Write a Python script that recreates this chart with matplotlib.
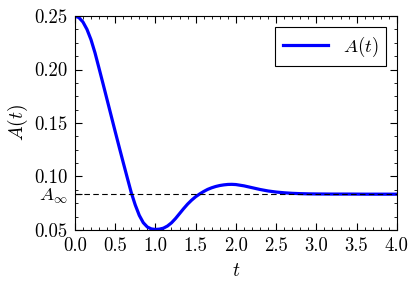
import numpy as np
import matplotlib
matplotlib.use("Agg")
import matplotlib.pyplot as plt
from matplotlib.ticker import MultipleLocator

plt.rcParams['font.family'] = 'serif'
plt.rcParams['font.serif'] = ['cmr10']
plt.rcParams['mathtext.fontset'] = 'cm'
plt.rcParams['axes.unicode_minus'] = False

# values
t = [0.00, 0.05, 0.10, 0.15, 0.20, 0.25, 0.30, 0.35, 0.40, 0.45,
     0.50, 0.55, 0.60, 0.65, 0.70, 0.75, 0.80, 0.85, 0.90, 0.95,
     1.00, 1.05, 1.10, 1.15, 1.20, 1.25, 1.30, 1.35, 1.40, 1.45,
     1.50, 1.55, 1.60, 1.65, 1.70, 1.75, 1.80, 1.85, 1.90, 1.95,
     2.00, 2.10, 2.20, 2.30, 2.40, 2.50, 2.60, 2.70, 2.80, 2.90,
     3.00, 3.20, 3.40, 3.60, 3.80, 4.00]
A = [0.2500, 0.2486, 0.2445, 0.2376, 0.2280, 0.2156, 0.2012, 0.1866, 0.1718, 0.1570,
     0.1422, 0.1276, 0.1132, 0.0990, 0.0850, 0.0733, 0.0636, 0.0567, 0.0527, 0.0509,
     0.0504, 0.0507, 0.0516, 0.0536, 0.0566, 0.0606, 0.0652, 0.0698, 0.0741, 0.0778,
     0.0810, 0.0836, 0.0859, 0.0879, 0.0894, 0.0906, 0.0915, 0.0921, 0.0925, 0.0926,
     0.0924, 0.0912, 0.0895, 0.0878, 0.0864, 0.0854, 0.0847, 0.0842, 0.0839, 0.0837,
     0.0836, 0.0835, 0.0835, 0.0834, 0.0834, 0.0834]
a_inf = 0.0834

yticks = [0.05, a_inf, 0.10, 0.15, 0.20, 0.25]
ylabels = ['0.05', r'$A_\infty$', '0.10', '0.15', '0.20', '0.25']

fig = plt.figure(figsize=(4.16, 2.87), dpi=100)
ax = fig.add_axes([0.180, 0.199, 0.774, 0.745])

ax.plot(t, A, color='#0000ff', lw=2.3, label=r'$A(t)$')
ax.axhline(a_inf, color='k', ls='--', lw=0.8, dashes=(5, 3))

ax.set_xlim(0, 4)
ax.set_ylim(0.05, 0.25)
ax.xaxis.set_major_locator(MultipleLocator(0.5))
ax.xaxis.set_minor_locator(MultipleLocator(0.1))
ax.set_yticks(yticks, labels=ylabels)
ax.yaxis.set_minor_locator(MultipleLocator(0.0125))
ax.tick_params(which='both', direction='in', top=True, right=True, labelsize=13.5)
ax.tick_params(which='major', length=5, width=0.8, pad=5)
ax.tick_params(which='minor', length=2.5, width=0.6)

ax.set_xlabel(r'$t$', fontsize=14, labelpad=5)
ax.set_ylabel(r'$A(t)$', fontsize=14, labelpad=3)

leg = ax.legend(loc='upper right', fontsize=13.5, fancybox=False, framealpha=1,
                handlelength=2.4, borderaxespad=0.6)
leg.get_frame().set_edgecolor('k')
leg.get_frame().set_linewidth(0.8)

fig.savefig('out.png', dpi=100)
